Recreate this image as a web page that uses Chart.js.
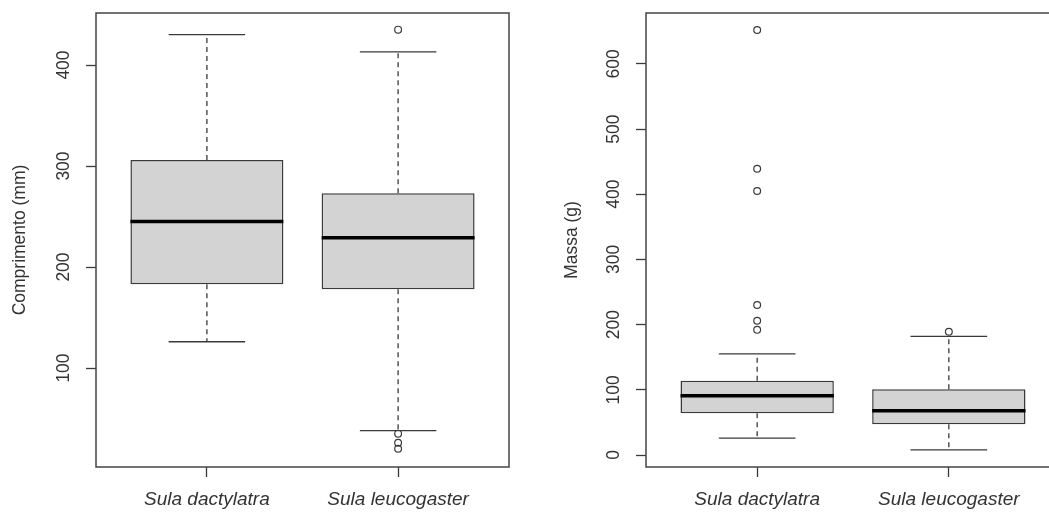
<!DOCTYPE html>
<html lang="pt">
<head>
<meta charset="UTF-8">
<title>Sula - comprimento e massa</title>
<script src="https://cdn.jsdelivr.net/npm/chart.js"></script>
<style>
  html, body { margin: 0; padding: 0; background: #fff; overflow: hidden; }
  #wrap { position: relative; width: 1049px; height: 512px; overflow: hidden; }
  canvas { position: absolute; top: 0; }
</style>
</head>
<body>
<div id="wrap">
  <canvas id="compChart" width="530" height="512" style="left:0"></canvas>
  <canvas id="massChart" width="540" height="512" style="left:530px"></canvas>
</div>
<script>
const species = ['Sula dactylatra', 'Sula leucogaster'];

// Comprimento (mm)
const compLowerWhisker = [126, 38];
const compQ1 = [183, 178];
const compMedian = [245, 229];
const compQ3 = [306, 273];
const compUpperWhisker = [430, 413];
const compOutliers = [[], [435, 35, 26, 20]];
const compTicks = [100, 200, 300, 400];

// Massa (g)
const massLowerWhisker = [26, 8];
const massQ1 = [64, 47];
const massMedian = [91, 68];
const massQ3 = [114, 101];
const massUpperWhisker = [155, 182];
const massOutliers = [[652, 439, 405, 230, 206, 192], [189]];
const massTicks = [0, 100, 200, 300, 400, 500, 600];

const ink = '#3a3a3a';

// moldura em volta da área do gráfico (como box() do R)
const framePlugin = {
    id: 'frame',
    afterDraw(chart) {
        const { ctx, chartArea: a } = chart;
        ctx.save();
        ctx.strokeStyle = '#444';
        ctx.lineWidth = 1.5;
        ctx.strokeRect(a.left, a.top, a.right - a.left, a.bottom - a.top);
        ctx.restore();
    }
};

// segmentos separados por pontos nulos
function segments(pairs) {
    const out = [];
    pairs.forEach(p => { out.push(p[0], p[1], { x: p[0].x, y: null }); });
    return out;
}

function boxChart(id, lo, q1, med, q3, hi, outliers, yMin, yMax, yTicks, yTitle, yWidth, titlePad, padRight) {
    const boxes = species.map((s, i) => ({ x: i + 1, y: [q1[i], q3[i]] }));
    const medians = segments(species.map((s, i) => [{ x: i + 0.6, y: med[i] }, { x: i + 1.4, y: med[i] }]));
    const whiskers = segments(species.map((s, i) => [{ x: i + 1, y: q3[i] }, { x: i + 1, y: hi[i] }])
        .concat(species.map((s, i) => [{ x: i + 1, y: q1[i] }, { x: i + 1, y: lo[i] }])));
    const caps = segments(species.map((s, i) => [{ x: i + 0.8, y: hi[i] }, { x: i + 1.2, y: hi[i] }])
        .concat(species.map((s, i) => [{ x: i + 0.8, y: lo[i] }, { x: i + 1.2, y: lo[i] }])));
    const points = [];
    outliers.forEach((arr, i) => arr.forEach(v => points.push({ x: i + 1, y: v })));

    return new Chart(document.getElementById(id), {
        type: 'bar',
        data: {
            datasets: [
                {
                    type: 'line', data: points, showLine: false,
                    pointRadius: 3.4, pointBorderWidth: 1.2,
                    pointBackgroundColor: 'rgba(0,0,0,0)', pointBorderColor: ink
                },
                {
                    type: 'line', data: medians, borderColor: '#000', borderWidth: 3.5,
                    pointRadius: 0, spanGaps: false
                },
                {
                    type: 'line', data: caps, borderColor: ink, borderWidth: 1.3,
                    pointRadius: 0, spanGaps: false
                },
                {
                    type: 'line', data: whiskers, borderColor: ink, borderWidth: 1.3,
                    borderDash: [5, 4], pointRadius: 0, spanGaps: false
                },
                {
                    data: boxes, backgroundColor: '#d3d3d3', borderColor: ink,
                    borderWidth: 1.5, borderSkipped: false,
                    barPercentage: 0.8, categoryPercentage: 1
                }
            ]
        },
        options: {
            responsive: false,
            animation: false,
            layout: { padding: { top: 13, right: padRight, bottom: 0, left: 0 } },
            plugins: { legend: { display: false }, tooltip: { enabled: false } },
            scales: {
                x: {
                    type: 'linear', min: 0.42, max: 2.58, offset: false,
                    afterBuildTicks: s => { s.ticks = species.map((n, i) => ({ value: i + 1 })); },
                    afterFit: s => { s.height = 45; s.paddingLeft = 0; s.paddingRight = 0; },
                    border: { display: false },
                    grid: { offset: false, drawOnChartArea: false, drawTicks: true, tickLength: 10, color: ink, tickWidth: 1.3 },
                    ticks: {
                        autoSkip: false, padding: 11, color: '#333', maxRotation: 0,
                        font: { family: 'Liberation Sans, Arial, sans-serif', size: 19, style: 'italic' },
                        callback: (v, i) => species[i]
                    }
                },
                y: {
                    type: 'linear', min: yMin, max: yMax,
                    afterBuildTicks: s => { s.ticks = yTicks.map(v => ({ value: v })); },
                    afterFit: s => { s.width = yWidth; s.paddingTop = 0; s.paddingBottom = 0; },
                    border: { display: false },
                    grid: { drawOnChartArea: false, drawTicks: true, tickLength: 10, color: ink, tickWidth: 1.3 },
                    ticks: {
                        autoSkip: false, padding: 7, color: '#333',
                        minRotation: 90, maxRotation: 90, crossAlign: 'center',
                        font: { family: 'Liberation Sans, Arial, sans-serif', size: 17.5 }
                    },
                    title: {
                        display: true, text: yTitle, color: '#333',
                        padding: { top: titlePad, bottom: 0 },
                        font: { family: 'Liberation Sans, Arial, sans-serif', size: 17.5 }
                    }
                }
            }
        },
        plugins: [framePlugin]
    });
}

boxChart('compChart', compLowerWhisker, compQ1, compMedian, compQ3, compUpperWhisker, compOutliers,
    2, 451.5, compTicks, 'Comprimento (mm)', 96, 10, 21);
boxChart('massChart', massLowerWhisker, massQ1, massMedian, massQ3, massUpperWhisker, massOutliers,
    -18.4, 678, massTicks, 'Massa (g)', 116, 31.5, 10);
</script>
</body>
</html>
